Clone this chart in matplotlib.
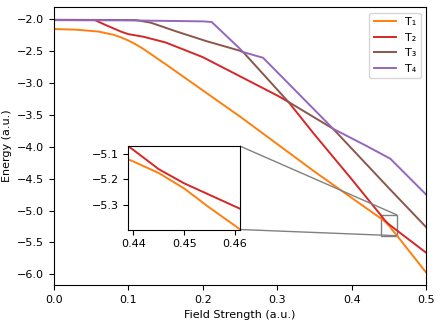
import matplotlib
matplotlib.use('Agg')
from matplotlib import pyplot as plt
from mpl_toolkits.axes_grid1.inset_locator import mark_inset

plt.rcParams['font.size'] = 8

# field strength samples and energies for each state
x_t1 = [0.0, 0.03, 0.06, 0.08, 0.09, 0.1, 0.11, 0.12, 0.15, 0.2, 0.25, 0.3, 0.35, 0.39, 0.44, 0.445, 0.45, 0.455, 0.46, 0.5]
e_t1 = [-2.16, -2.17, -2.20, -2.25, -2.29, -2.34, -2.40, -2.47, -2.71, -3.12, -3.53, -3.96, -4.39, -4.72, -5.13, -5.175, -5.235, -5.31, -5.38, -5.97]

x_t2 = [0.0, 0.055, 0.07, 0.09, 0.1, 0.12, 0.15, 0.2, 0.25, 0.3, 0.315, 0.35, 0.4, 0.44, 0.445, 0.45, 0.455, 0.46, 0.5]
e_t2 = [-2.02, -2.02, -2.10, -2.20, -2.24, -2.28, -2.37, -2.60, -2.90, -3.20, -3.30, -3.81, -4.51, -5.085, -5.16, -5.215, -5.26, -5.305, -5.66]

x_t3 = [0.0, 0.11, 0.13, 0.165, 0.205, 0.25, 0.255, 0.315, 0.375, 0.4, 0.45, 0.5]
e_t3 = [-2.015, -2.02, -2.06, -2.20, -2.35, -2.50, -2.53, -3.30, -3.72, -4.03, -4.65, -5.26]

x_t4 = [0.0, 0.1, 0.2, 0.212, 0.25, 0.254, 0.281, 0.32, 0.375, 0.4, 0.42, 0.452, 0.5]
e_t4 = [-2.02, -2.025, -2.04, -2.05, -2.47, -2.52, -2.61, -3.07, -3.72, -3.87, -3.99, -4.19, -4.75]

labels = ['T\u2081', 'T\u2082', 'T\u2083', 'T\u2084']
colors = ['tab:orange', 'tab:red', 'tab:brown', 'tab:purple']
series = [(x_t1, e_t1), (x_t2, e_t2), (x_t3, e_t3), (x_t4, e_t4)]

fig, ax = plt.subplots(figsize=(4.42, 3.24), dpi=100)
fig.subplots_adjust(left=0.122, right=0.964, top=0.978, bottom=0.12)

for (xs, ys), lab, c in zip(series, labels, colors):
    ax.plot(xs, ys, color=c, label=lab, linewidth=1.4)

ax.set_xlim(0, 0.5)
ax.set_xlabel('Field Strength (a.u.)')
ax.set_ylabel('Energy (a.u.)')
ax.legend(loc='upper right')

# zoomed inset around the T1/T2 near-crossing
axins = ax.inset_axes([0.2, 0.2, 0.3, 0.3])
for (xs, ys), c in zip(series[:2], colors[:2]):
    axins.plot(xs, ys, color=c, linewidth=1.4)
axins.set_xlim(0.439, 0.461)
axins.set_ylim(-5.395, -5.07)
axins.set_xticks([0.44, 0.45, 0.46])
axins.set_yticks([-5.1, -5.2, -5.3])
mark_inset(ax, axins, loc1=1, loc2=4, fc='none', ec='0.5')

fig.savefig('out.png', dpi=100)
